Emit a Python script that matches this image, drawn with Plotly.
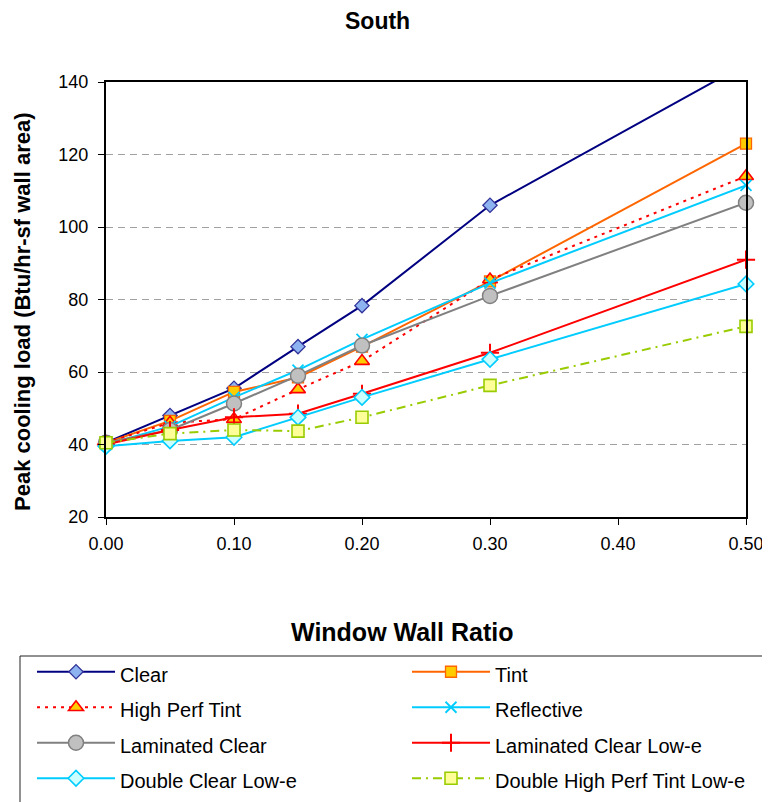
import plotly.graph_objects as go

# ---- data ----
wwr = [0.00, 0.05, 0.10, 0.15, 0.20, 0.30, 0.50]
clear = [40.5, 48.0, 55.5, 67.0, 78.3, 106.0, 145.0]
tint = [40.5, 46.5, 54.5, 58.5, 67.0, 85.0, 123.0]
high_perf_tint = [40.5, 46.0, 47.0, 55.2, 63.0, 85.5, 114.0]
reflective = [40.0, 45.0, 53.0, 60.5, 69.0, 84.5, 111.5]
laminated_clear = [40.5, 44.0, 51.3, 59.0, 67.3, 81.0, 106.7]
laminated_clear_lowe = [40.0, 44.0, 47.5, 48.5, 54.0, 65.3, 91.0]
double_clear_lowe = [39.5, 41.0, 42.0, 47.5, 53.0, 63.5, 84.3]
double_hpt_lowe = [40.5, 43.0, 44.0, 43.7, 47.5, 56.3, 72.6]

series_names = ["Clear", "Tint", "High Perf Tint", "Reflective", "Laminated Clear",
                "Laminated Clear Low-e", "Double Clear Low-e", "Double High Perf Tint Low-e"]
x_ticks = [0.0, 0.1, 0.2, 0.3, 0.4, 0.5]
y_ticks = [20, 40, 60, 80, 100, 120, 140]

styles = [
    dict(line=dict(color="#000080", width=2),
         marker=dict(symbol="diamond", size=11, color="#8DB4F0", line=dict(color="#333399", width=1.3)), clip=True),
    dict(line=dict(color="#FF6600", width=2),
         marker=dict(symbol="square", size=11, color="#FFCC00", line=dict(color="#FF6600", width=1.3)), clip=False),
    dict(line=dict(color="#FF0000", width=2, dash="3px,5px"),
         marker=dict(symbol="triangle-up", size=13, color="#FFCC00", line=dict(color="#FF0000", width=1.6)), clip=False),
    dict(line=dict(color="#00CCFF", width=2),
         marker=dict(symbol="x-thin", size=11, color="#00CCFF", line=dict(color="#00CCFF", width=1.8)), clip=False),
    dict(line=dict(color="#808080", width=2),
         marker=dict(symbol="circle", size=15, color="#C0C0C0", line=dict(color="#808080", width=1.5)), clip=False),
    dict(line=dict(color="#FF0000", width=2),
         marker=dict(symbol="cross-thin", size=13, color="#FF0000", line=dict(color="#FF0000", width=2)), clip=False),
    dict(line=dict(color="#00CCFF", width=2),
         marker=dict(symbol="diamond", size=12, color="#CCFFFF", line=dict(color="#00CCFF", width=1.6)), clip=False),
    dict(line=dict(color="#99CC00", width=2, dash="9px,5px,2px,5px"),
         marker=dict(symbol="square", size=12, color="#FFFF99", line=dict(color="#99CC00", width=1.6)), clip=False),
]

all_series = [clear, tint, high_perf_tint, reflective, laminated_clear,
              laminated_clear_lowe, double_clear_lowe, double_hpt_lowe]

fig = go.Figure()
for i, (name, vals, st) in enumerate(zip(series_names, all_series, styles)):
    fig.add_trace(go.Scatter(
        x=wwr, y=vals, mode="lines+markers",
        name='<span style="font-size:20px">' + name + '</span>',
        line=st["line"], marker=st["marker"], cliponaxis=st["clip"],
        legend="legend" if i % 2 == 0 else "legend2",
    ))

font_family = "Liberation Sans, Arial, sans-serif"

# plot area in figure pixels (page adds an 8px body margin)
L, R, T, B = 98, 738, 74, 509
W, H = R - L, B - T


def px(xf):
    return (xf - L) / W


def py(yf):
    return (B - yf) / H


legend_common = dict(
    orientation="v", xanchor="left", y=py(641), yanchor="top",
    itemwidth=78, font=dict(size=25, family=font_family, color="black"),
    borderwidth=0, bgcolor="rgba(0,0,0,0)", tracegroupgap=0,
)

fig.update_layout(
    width=770, height=802,
    margin=dict(l=L, r=770 - R, t=T, b=802 - B, autoexpand=False),
    paper_bgcolor="white", plot_bgcolor="white",
    font=dict(family=font_family, color="black", size=18),
    showlegend=True,
    legend=dict(x=px(24), **legend_common),
    legend2=dict(x=px(399), **legend_common),
    xaxis=dict(
        range=[0, 0.5], tickvals=x_ticks, tickformat=".2f",
        showgrid=False, zeroline=False,
        showline=True, linecolor="black", linewidth=2, mirror=True,
        ticks="outside", ticklen=6, tickcolor="black", tickwidth=1,
        tickfont=dict(size=18), ticklabelstandoff=3,
    ),
    yaxis=dict(
        range=[20, 140], tickvals=y_ticks,
        showgrid=True, gridcolor="#A0A0A0", gridwidth=1, griddash="7px,5px",
        zeroline=False,
        showline=True, linecolor="black", linewidth=2, mirror=True,
        ticks="outside", ticklen=6, tickcolor="black", tickwidth=1,
        tickfont=dict(size=18), ticklabelstandoff=6,
    ),
    shapes=[
        dict(type="rect", xref="paper", yref="paper",
             x0=px(12), x1=px(776), y0=py(648), y1=py(812),
             line=dict(color="#222222", width=1), fillcolor="rgba(0,0,0,0)", layer="below"),
    ],
    annotations=[
        dict(text="<b>South</b>", xref="paper", yref="paper", x=px(369), y=py(13),
             xanchor="center", yanchor="middle", showarrow=False, font=dict(size=23)),
        dict(text="<b>Window Wall Ratio</b>", xref="paper", yref="paper", x=px(394),
             y=py(624), xanchor="center", yanchor="middle", showarrow=False, font=dict(size=25)),
        dict(text="<b>Peak cooling load (Btu/hr-sf wall area)</b>", xref="paper", yref="paper",
             x=px(14), y=py(304), xanchor="center", yanchor="middle",
             textangle=-90, showarrow=False, font=dict(size=22)),
    ],
)

fig.write_html("out.html")
